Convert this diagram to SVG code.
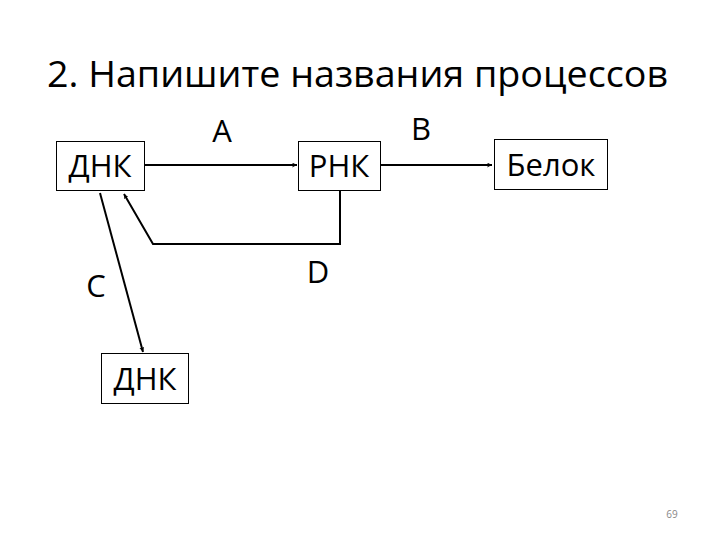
<svg xmlns="http://www.w3.org/2000/svg" width="720" height="540" viewBox="0 0 720 540">
<style>
.box{fill:#fff;stroke:#000;stroke-width:1}
.t{font-family:"Open Sans","Liberation Sans",sans-serif;fill:#000}
.c{fill:none;stroke:#000;stroke-width:2}
</style>
<defs>
<marker id="ah" viewBox="0 0 10 10" refX="10" refY="5" markerWidth="5" markerHeight="5" orient="auto" markerUnits="userSpaceOnUse">
<path d="M0,0 L10,5 L0,10 L3,5 Z" fill="#000"/>
</marker>
</defs>
<rect width="720" height="540" fill="#fff"/>
<text class="t" x="47" y="87" font-size="36" textLength="621" lengthAdjust="spacingAndGlyphs">2. Напишите названия процессов</text>
<g id="connectors">
<line class="c" x1="145" y1="165" x2="297" y2="165" marker-end="url(#ah)"/>
<line class="c" x1="381" y1="165" x2="492" y2="165" marker-end="url(#ah)"/>
<polyline class="c" points="340,190 340,244 153,244 124,194" marker-end="url(#ah)"/>
<line class="c" x1="100" y1="193" x2="143" y2="352" marker-end="url(#ah)"/>
</g>
<g id="dnk1"><rect class="box" x="56.5" y="141.5" width="88" height="49"/><text class="t" x="100" y="177" font-size="31" text-anchor="middle">ДНК</text></g>
<g id="rnk"><rect class="box" x="298.5" y="141.5" width="82" height="49"/><text class="t" x="339" y="177" font-size="31" text-anchor="middle">РНК</text></g>
<g id="belok"><rect class="box" x="494.5" y="139.5" width="113" height="50"/><text class="t" x="551" y="176" font-size="31" text-anchor="middle">Белок</text></g>
<g id="dnk2"><rect class="box" x="101.5" y="353.5" width="87" height="50"/><text class="t" x="145" y="390" font-size="31" text-anchor="middle">ДНК</text></g>
<g id="labels">
<text class="t" x="222" y="142" font-size="31" text-anchor="middle">A</text>
<text class="t" x="421" y="140" font-size="31" text-anchor="middle">B</text>
<text class="t" x="96" y="297" font-size="31" text-anchor="middle">C</text>
<text class="t" x="318" y="283" font-size="31" text-anchor="middle">D</text>
<text class="t" x="672" y="518" font-size="10" fill="#888" style="fill:#888" text-anchor="middle">69</text>
</g>
</svg>
